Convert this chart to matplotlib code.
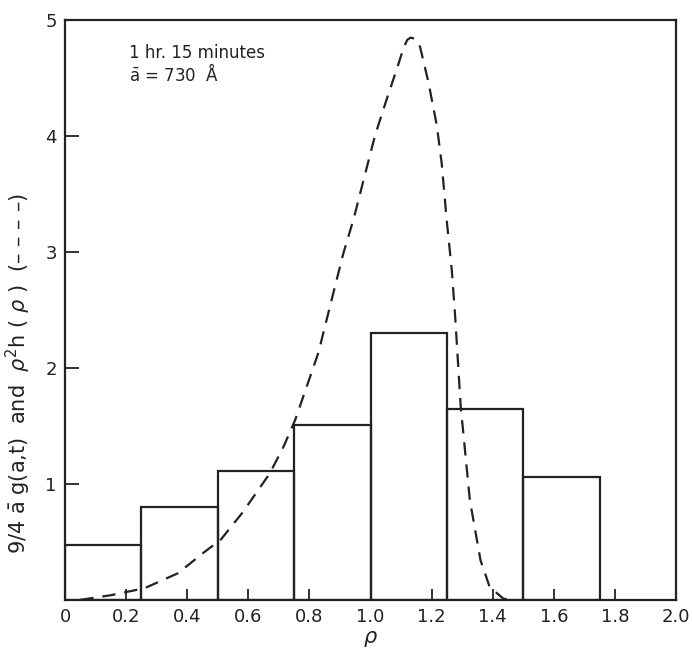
import numpy as np
import matplotlib.pyplot as plt

# histogram: 9/4 a g(a,t)
bin_left = [0.0, 0.25, 0.5, 0.75, 1.0, 1.25, 1.5]
bin_height = [0.47, 0.80, 1.11, 1.51, 2.30, 1.65, 1.06]

# dashed curve: rho^2 h(rho)
rho = [0.05, 0.15, 0.26, 0.37, 0.45, 0.51, 0.58, 0.67, 0.715, 0.753,
       0.791, 0.829, 0.867, 0.911, 0.944, 0.977, 1.015, 1.053, 1.086,
       1.108, 1.12, 1.131, 1.145, 1.162, 1.189, 1.217, 1.233, 1.249,
       1.266, 1.277, 1.295, 1.325, 1.36, 1.39, 1.435, 1.46]
h = [0.0, 0.04, 0.10, 0.23, 0.40, 0.52, 0.75, 1.09, 1.32, 1.55,
     1.84, 2.13, 2.53, 2.99, 3.28, 3.62, 4.01, 4.32, 4.58,
     4.76, 4.83, 4.85, 4.84, 4.77, 4.47, 4.09, 3.76, 3.28,
     2.84, 2.44, 1.67, 0.86, 0.34, 0.11, 0.01, 0.0]

ink = '#222222'
plt.rcParams['font.family'] = 'DejaVu Sans'

fig = plt.figure(figsize=(6.92, 6.52), dpi=100)
ax = fig.add_axes([0.094, 0.080, 0.883, 0.889])

ax.bar(bin_left, bin_height, width=0.25, align='edge', fill=False,
       edgecolor=ink, linewidth=1.6)
ax.plot(rho, h, color=ink, linewidth=1.6, linestyle=(0, (6, 4)))

ax.set_xlim(0, 2.0)
ax.set_ylim(0, 5)
ax.set_xticks(np.arange(0, 2.01, 0.2))
ax.set_xticklabels(['0', '0.2', '0.4', '0.6', '0.8', '1.0', '1.2', '1.4',
                    '1.6', '1.8', '2.0'])
ax.set_yticks([1, 2, 3, 4, 5])
ax.set_yticklabels(['1', '2', '3', '4', '5'])
ax.tick_params(direction='in', length=8, width=1.3, color=ink,
               labelsize=13, labelcolor=ink)
ax.tick_params(axis='y', length=10, pad=6)
ax.tick_params(axis='x', pad=6)
for s in ax.spines.values():
    s.set_linewidth(1.6)
    s.set_color(ink)

ax.set_xlabel(r'$\rho$', fontsize=15, color=ink, labelpad=2)
ax.set_ylabel(r'9/4 $\bar{\mathrm{a}}$ g(a,t)  and  $\rho^2$h ( $\rho$ )  (– – – –)',
              fontsize=15, color=ink)
ax.yaxis.set_label_coords(-0.052, 0.39)

ax.text(0.105, 0.935, '1 hr. 15 minutes', transform=ax.transAxes,
        fontsize=12, color=ink)
ax.text(0.105, 0.895, r'$\bar{\mathrm{a}}$ = 730  Å', transform=ax.transAxes,
        fontsize=12, color=ink)

fig.savefig('out.png', dpi=100)
